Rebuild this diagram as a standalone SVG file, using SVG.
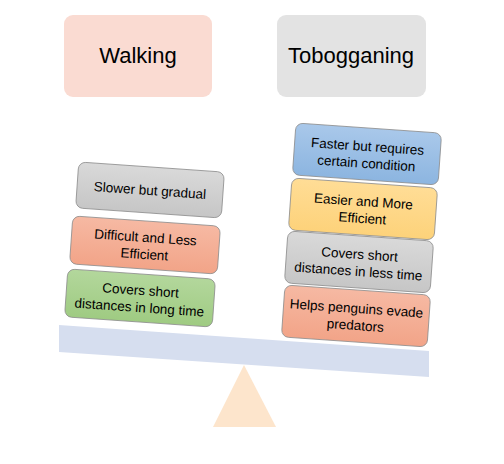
<svg xmlns="http://www.w3.org/2000/svg" width="504" height="464" viewBox="0 0 504 464">
<defs>
<linearGradient id="gGray" x1="0" y1="0" x2="0" y2="1"><stop offset="0" stop-color="#d9d9d9"/><stop offset="1" stop-color="#c6c6c6"/></linearGradient>
<linearGradient id="gSal" x1="0" y1="0" x2="0" y2="1"><stop offset="0" stop-color="#f6b9a3"/><stop offset="1" stop-color="#f2a488"/></linearGradient>
<linearGradient id="gGreen" x1="0" y1="0" x2="0" y2="1"><stop offset="0" stop-color="#b3d79c"/><stop offset="1" stop-color="#9fcb82"/></linearGradient>
<linearGradient id="gBlue" x1="0" y1="0" x2="0" y2="1"><stop offset="0" stop-color="#a9c8ea"/><stop offset="1" stop-color="#8cb5e0"/></linearGradient>
<linearGradient id="gYel" x1="0" y1="0" x2="0" y2="1"><stop offset="0" stop-color="#ffdd96"/><stop offset="1" stop-color="#fdd27a"/></linearGradient>
</defs>
<style>
.t{font-family:"Liberation Sans",Arial,sans-serif;fill:#000;text-anchor:middle}
.h{font-size:22px}
.s{font-size:13.5px}
.b{stroke:#8a8a8a;stroke-width:0.8}
</style>
<g id="walking"><rect x="64" y="15" width="148" height="82" rx="9" fill="#fadbd2"/><text class="t h" x="138" y="63">Walking</text></g>
<g id="tobogganing"><rect x="277" y="15" width="149" height="82" rx="9" fill="#e3e3e3"/><text class="t h" x="351" y="63">Tobogganing</text></g>
<g id="fulcrum"><polygon points="244,365 276,427 213,427" fill="#fde5cc"/></g>
<g id="beam"><polygon points="59,325 429,351 429,377 59,352" fill="#d6deef"/></g>
<g id="slower" transform="translate(150,190) rotate(4)"><rect class="b" x="-73" y="-23" width="146" height="46" rx="7" fill="url(#gGray)"/><text class="t s" x="0" y="5">Slower but gradual</text></g>
<g id="difficult" transform="translate(145,245) rotate(4)"><rect class="b" x="-74" y="-24" width="148" height="48" rx="7" fill="url(#gSal)"/><text class="t s" x="0" y="-3">Difficult and Less</text><text class="t s" x="0" y="14">Efficient</text></g>
<g id="coverslong" transform="translate(140,298) rotate(4)"><rect class="b" x="-74" y="-24" width="148" height="48" rx="7" fill="url(#gGreen)"/><text class="t s" x="0" y="-3">Covers short</text><text class="t s" x="0" y="14">distances in long time</text></g>
<g id="faster" transform="translate(367,154) rotate(4)"><rect class="b" x="-73" y="-26" width="146" height="52" rx="7" fill="url(#gBlue)"/><text class="t s" x="0" y="-3">Faster but requires</text><text class="t s" x="0" y="14">certain condition</text></g>
<g id="easier" transform="translate(363,209) rotate(4)"><rect class="b" x="-73" y="-26" width="146" height="52" rx="7" fill="url(#gYel)"/><text class="t s" x="0" y="-3">Easier and More</text><text class="t s" x="0" y="14">Efficient</text></g>
<g id="coversless" transform="translate(359,262) rotate(4)"><rect class="b" x="-73" y="-26" width="146" height="52" rx="7" fill="url(#gGray)"/><text class="t s" x="0" y="-3">Covers short</text><text class="t s" x="0" y="14">distances in less time</text></g>
<g id="helps" transform="translate(356,316) rotate(4)"><rect class="b" x="-73" y="-26" width="146" height="52" rx="7" fill="url(#gSal)"/><text class="t s" x="0" y="-3">Helps penguins evade</text><text class="t s" x="0" y="14">predators</text></g>
<g id="connectors"/>
</svg>
